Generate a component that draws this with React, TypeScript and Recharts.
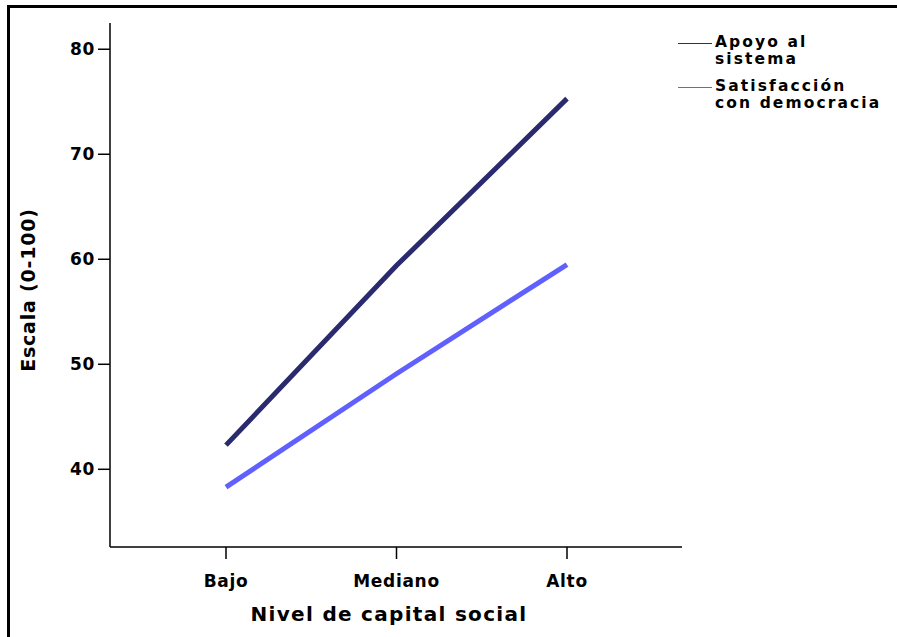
import { Line, LineChart, XAxis, YAxis } from "recharts"

const NIVELES = ["Bajo", "Mediano", "Alto"]
const APOYO = [42.3, 59.4, 75.3]
const SATISFACCION = [38.3, 49.1, 59.5]
const Y_TICKS = [40, 50, 60, 70, 80]

const SERIES = [
  { key: "apoyo", lines: ["Apoyo al", "sistema"], color: "#2a2a6e" },
  { key: "satisfaccion", lines: ["Satisfacción", "con democracia"], color: "#6060ff" },
]

const data = NIVELES.map((nivel, i) => ({
  nivel,
  apoyo: APOYO[i],
  satisfaccion: SATISFACCION[i],
}))

const FONT = "'DejaVu Sans', sans-serif"

// leyenda a la derecha, fuera del área de trazado
function LegendBox() {
  return (
    <div
      style={{
        position: "absolute",
        left: 678,
        top: 34,
        fontFamily: FONT,
        fontWeight: 700,
        fontSize: 15.5,
        letterSpacing: 2.1,
        color: "#000",
      }}
    >
      {SERIES.map((s, i) => (
        <div key={s.key} style={{ display: "flex", alignItems: "flex-start", marginTop: i === 0 ? 0 : 10 }}>
          <div style={{ width: 34, height: 1, background: s.color, marginTop: 9, marginRight: 3 }} />
          <div style={{ lineHeight: "17px" }}>
            {s.lines.map((l) => (
              <div key={l}>{l}</div>
            ))}
          </div>
        </div>
      ))}
    </div>
  )
}

export default function App() {
  return (
    <div style={{ position: "absolute", left: 0, top: 0, width: 897, height: 637, overflow: "hidden", background: "#fff" }}>
      <div
        style={{
          position: "absolute",
          left: 7,
          top: 5,
          width: 890,
          height: 632,
          borderLeft: "3px solid #000",
          borderTop: "3px solid #000",
        }}
      />
      <LineChart
        width={897}
        height={637}
        data={data}
        margin={{ top: 23, right: 215, bottom: 30, left: 50 }}
        style={{ position: "absolute", left: 0, top: 0 }}
      >
        <XAxis
          dataKey="nivel"
          height={60}
          padding={{ left: 116, right: 115 }}
          axisLine={{ stroke: "#000", strokeWidth: 1.5 }}
          tickLine={{ stroke: "#000", strokeWidth: 1.5 }}
          tickSize={12}
          tickMargin={16}
          tick={{ fill: "#000", fontFamily: FONT, fontWeight: 700, fontSize: 17, letterSpacing: 0.7 }}
          label={({ viewBox }: any) => (
            <text
              x={viewBox.x + viewBox.width / 2 - 7}
              y={viewBox.y + viewBox.height + 14}
              textAnchor="middle"
              fill="#000"
              fontFamily={FONT}
              fontWeight={700}
              fontSize={20}
              letterSpacing={1.3}
            >
              Nivel de capital social
            </text>
          )}
        />
        <YAxis
          type="number"
          width={60}
          domain={[32.6, 82.5]}
          ticks={Y_TICKS}
          allowDataOverflow
          axisLine={{ stroke: "#000", strokeWidth: 1.5 }}
          tickLine={{ stroke: "#000", strokeWidth: 1.5 }}
          tickSize={12}
          tickMargin={3}
          tick={{ fill: "#000", fontFamily: FONT, fontWeight: 700, fontSize: 17, letterSpacing: 0.7 }}
          label={({ viewBox }: any) => {
            const cy = viewBox.y + viewBox.height / 2 + 5
            return (
              <text
                x={28}
                y={cy}
                transform={`rotate(-90, 28, ${cy})`}
                textAnchor="middle"
                dominantBaseline="central"
                fill="#000"
                fontFamily={FONT}
                fontWeight={700}
                fontSize={19}
                letterSpacing={0.8}
              >
                Escala (0-100)
              </text>
            )
          }}
        />
        {SERIES.map((s) => (
          <Line
            key={s.key}
            type="linear"
            dataKey={s.key}
            stroke={s.color}
            strokeWidth={5}
            dot={false}
            activeDot={false}
            isAnimationActive={false}
          />
        ))}
      </LineChart>
      <LegendBox />
    </div>
  )
}
